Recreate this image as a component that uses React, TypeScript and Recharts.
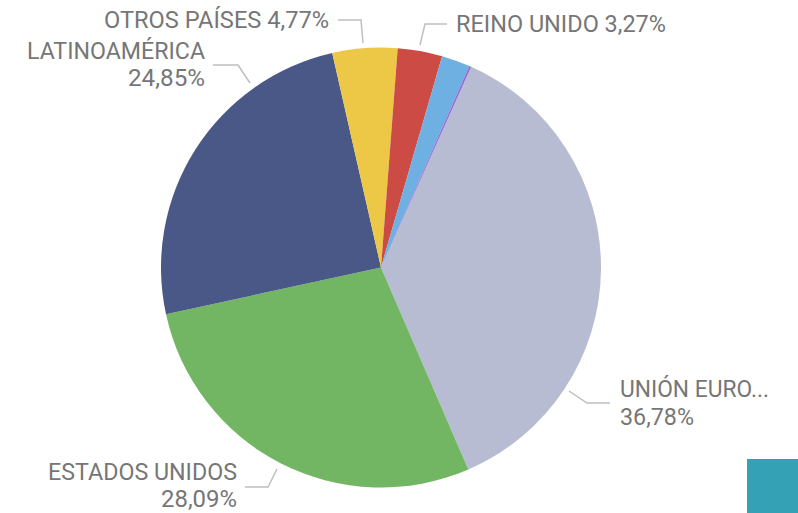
import React from 'react';
import { PieChart, Pie, Cell } from 'recharts';

const categories = ['UNIÓN EUROPEA', 'ESTADOS UNIDOS', 'LATINOAMÉRICA', 'OTROS PAÍSES', 'REINO UNIDO', 'ASIA', 'ÁFRICA'];
const shareValues = [36.78, 28.09, 24.85, 4.77, 3.27, 2.1, 0.14];
const labelNames = ['UNIÓN EURO...', 'ESTADOS UNIDOS', 'LATINOAMÉRICA', 'OTROS PAÍSES', 'REINO UNIDO', '', ''];
const sliceColors = ['#b8bcd2', '#72b663', '#4a5888', '#ecc846', '#cd4b45', '#6fb0e2', '#9467d8'];

const data = categories.map((name, i) => ({ name, value: shareValues[i] }));

type Line = { kind: 'name' | 'pct' | 'both'; dy: number; w: number };
type Layout = { pts: number[][]; anchor: 'start' | 'end'; dx: number; lines: Line[] } | null;

// label placement relative to pie center
const labelLayout: Layout[] = [
  { pts: [[188, 123.5], [206, 135.5], [229, 135.5]], anchor: 'start', dx: 239, lines: [{ kind: 'name', dy: 129.5, w: 149 }, { kind: 'pct', dy: 157.5, w: 74 }] },
  { pts: [[-104, 201.5], [-113, 219.5], [-136, 219.5]], anchor: 'end', dx: -144, lines: [{ kind: 'name', dy: 212.5, w: 189 }, { kind: 'pct', dy: 239.5, w: 76 }] },
  { pts: [[-131, -184.5], [-143, -202.5], [-168, -202.5]], anchor: 'end', dx: -176, lines: [{ kind: 'name', dy: -208.5, w: 178 }, { kind: 'pct', dy: -181.5, w: 77 }] },
  { pts: [[-18, -224.5], [-20, -247.5], [-43, -247.5]], anchor: 'end', dx: -52, lines: [{ kind: 'both', dy: -239.5, w: 225 }] },
  { pts: [[39, -222.5], [44, -243.5], [66, -243.5]], anchor: 'start', dx: 75, lines: [{ kind: 'both', dy: -236, w: 210 }] },
  null,
  null,
];

const fmtPct = (v: number) => v.toFixed(2).replace('.', ',') + '%';

const renderLabel = (props: any) => {
  const { cx, cy, index } = props;
  const lay = labelLayout[index];
  if (!lay) return null;
  const name = labelNames[index];
  const pct = fmtPct(shareValues[index]);
  const points = lay.pts.map(([x, y]) => `${cx + x},${cy + y}`).join(' ');
  return (
    <g>
      <polyline points={points} fill="none" stroke="#bfbfbf" strokeWidth={1.5} />
      {lay.lines.map((ln, k) => (
        <text
          key={k}
          x={cx + lay.dx}
          y={cy + ln.dy}
          textAnchor={lay.anchor}
          fill="#767676"
          fontSize={24.5}
          fontFamily="Roboto, sans-serif"
          textLength={ln.w}
          lengthAdjust="spacingAndGlyphs"
        >
          {ln.kind === 'name' ? name : ln.kind === 'pct' ? pct : `${name} ${pct}`}
        </text>
      ))}
    </g>
  );
};

export default function App() {
  return (
    <div style={{ position: 'absolute', left: 0, top: 0, width: 798, height: 513, background: '#fff' }}>
      <PieChart width={798} height={513} margin={{ top: 0, right: 0, bottom: 0, left: 0 }}>
        <Pie
          data={data}
          dataKey="value"
          nameKey="name"
          cx={381}
          cy={267.5}
          outerRadius={220}
          innerRadius={0}
          startAngle={65.8}
          endAngle={-294.2}
          stroke="none"
          label={renderLabel}
          labelLine={false}
          isAnimationActive={false}
        >
          {data.map((d, i) => (
            <Cell key={d.name} fill={sliceColors[i]} stroke="none" />
          ))}
        </Pie>
      </PieChart>
      <div style={{ position: 'absolute', left: 747, top: 459, width: 51, height: 54, background: '#35a1b4' }} />
    </div>
  );
}
